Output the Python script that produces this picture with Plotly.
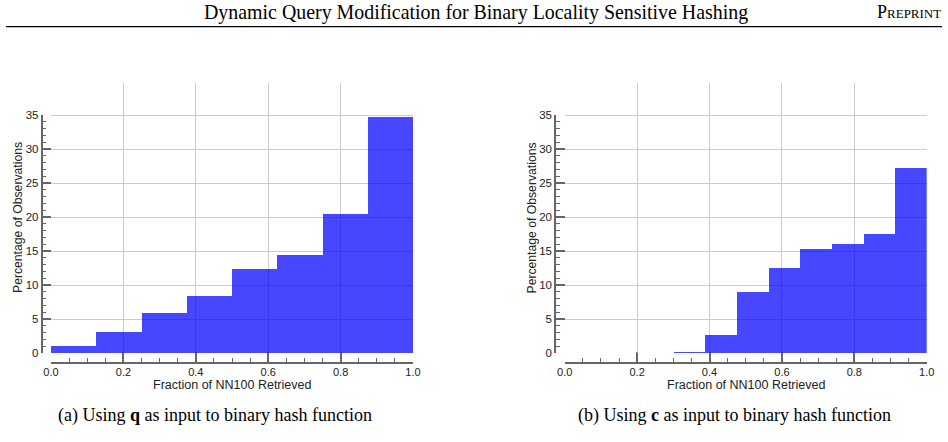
import plotly.graph_objects as go

# ---- data ----
edges_a = [0.0, 0.125, 0.25, 0.375, 0.5, 0.625, 0.75, 0.875, 1.0]
pct_a = [1.08, 3.03, 5.92, 8.42, 12.38, 14.44, 20.41, 34.7]
edges_b = [0.3, 0.3875, 0.475, 0.5625, 0.65, 0.7375, 0.825, 0.9125, 1.0]
pct_b = [0.2, 2.69, 8.96, 12.43, 15.27, 16.1, 17.52, 27.17]
x_ticks = [0.0, 0.2, 0.4, 0.6, 0.8, 1.0]
y_ticks = [0, 5, 10, 15, 20, 25, 30, 35]
header = "Dynamic Query Modification for Binary Locality Sensitive Hashing"
caption_a = "(a) Using <b>q</b> as input to binary hash function"
caption_b = "(b) Using <b>c</b> as input to binary hash function"
x_title = "Fraction of NN100 Retrieved"
y_title = "Percentage of Observations"

W, H = 948, 442
def px(v):
    return v / W
def py(v):
    return 1 - v / H

BAR = "rgba(0,0,255,0.72)"
GRID = "#cccccc"
AX = "#666666"
SANS = "Liberation Sans, Arial, sans-serif"
SERIF = "Liberation Serif, Times New Roman, serif"

def centers(e):
    return [(e[i] + e[i + 1]) / 2 for i in range(len(e) - 1)]
def widths(e):
    return [e[i + 1] - e[i] for i in range(len(e) - 1)]

panels = [
    dict(x0=51, x1=413, yline=41.5, xn="x", yn="y", yl="y3", e=edges_a, v=pct_a),
    dict(x0=564.7, x1=926.7, yline=555, xn="x2", yn="y2", yl="y4", e=edges_b, v=pct_b),
]

fig = go.Figure()
for p in panels:
    # transparent copy on the grid axis so its subplot (full grid height) exists
    fig.add_trace(go.Bar(x=centers(p["e"]), y=p["v"], width=widths(p["e"]),
                         marker=dict(color="rgba(0,0,0,0)", line=dict(width=0)),
                         hoverinfo="skip", xaxis=p["xn"], yaxis=p["yn"], showlegend=False))
    # visible histogram bars on the offset y axis (drawn above all gridlines)
    fig.add_trace(go.Bar(x=centers(p["e"]), y=p["v"], width=widths(p["e"]),
                         marker=dict(color=BAR, line=dict(width=0)),
                         xaxis=p["xn"], yaxis=p["yl"], showlegend=False))

y_bot, y_top, y_35, x_line = 353, 83, 115, 363
y_top_val = 35 * (y_bot - y_top) / (y_bot - y_35)

layout = dict(width=W, height=H, margin=dict(l=0, r=0, t=0, b=0, autoexpand=False),
              paper_bgcolor="white", plot_bgcolor="rgba(0,0,0,0)",
              bargap=0, barmode="overlay", font=dict(family=SANS, size=11, color="#222"))

for p in panels:
    xkey = "xaxis" if p["xn"] == "x" else "xaxis" + p["xn"][1:]
    ykey = "yaxis" if p["yn"] == "y" else "yaxis" + p["yn"][1:]
    ylkey = "yaxis" + p["yl"][1:]
    layout[xkey] = dict(domain=[px(p["x0"]), px(p["x1"])], range=[0, 1],
                        anchor="free", position=py(x_line), automargin=False,
                        tickvals=x_ticks, tickformat=".1f",
                        showgrid=True, gridcolor=GRID, gridwidth=1, zeroline=False,
                        showline=True, linecolor=AX, linewidth=1.5,
                        ticks="inside", ticklen=10, tickwidth=2, tickcolor=AX,
                        minor=dict(dtick=0.05, ticks="inside", ticklen=4,
                                   tickwidth=1, tickcolor=AX, showgrid=False),
                        ticklabelstandoff=-1,
                        tickfont=dict(family=SANS, size=11, color="#222"),
                        fixedrange=True)
    layout[ykey] = dict(domain=[py(y_bot), py(y_top)], range=[0, y_top_val],
                        anchor="free", position=px(p["x0"]), automargin=False,
                        tickvals=y_ticks, showticklabels=False,
                        showgrid=True, gridcolor=GRID, gridwidth=1, zeroline=False,
                        showline=False, ticks="", fixedrange=True)
    layout[ylkey] = dict(domain=[py(y_bot), py(y_35)], range=[0, 35],
                         anchor="free", position=px(p["yline"]), automargin=False,
                         tickvals=y_ticks, showgrid=False, zeroline=False,
                         showline=True, linecolor=AX, linewidth=1.5,
                         ticks="inside", ticklen=9, tickwidth=2, tickcolor=AX,
                         minor=dict(dtick=1, ticks="inside", ticklen=4,
                                    tickwidth=1, tickcolor=AX, showgrid=False),
                         tickfont=dict(family=SANS, size=11.5, color="#222"),
                         fixedrange=True)

annotations = []
for p in panels:
    annotations.append(dict(x=px((p["x0"] + p["x1"]) / 2), y=py(385), xref="paper", yref="paper",
                            text=x_title, showarrow=False, xanchor="center", yanchor="middle",
                            font=dict(family=SANS, size=12.5, color="#222")))
    annotations.append(dict(x=px(p["yline"] - 23.5), y=py(218), xref="paper", yref="paper",
                            text=y_title, showarrow=False, textangle=-90,
                            xanchor="center", yanchor="middle",
                            font=dict(family=SANS, size=12.2, color="#222")))
annotations.append(dict(x=px(476), y=py(12), xref="paper", yref="paper", text=header,
                        showarrow=False, xanchor="center", yanchor="middle",
                        font=dict(family=SERIF, size=19.9, color="black")))
annotations.append(dict(x=px(943), y=py(12), xref="paper", yref="paper",
                        text="P<span style='font-size:13px'>REPRINT</span>",
                        showarrow=False, xanchor="right", yanchor="middle",
                        font=dict(family=SERIF, size=18, color="black")))
annotations.append(dict(x=px(215), y=py(415), xref="paper", yref="paper", text=caption_a,
                        showarrow=False, xanchor="center", yanchor="middle",
                        font=dict(family=SERIF, size=18, color="black")))
annotations.append(dict(x=px(734), y=py(415), xref="paper", yref="paper", text=caption_b,
                        showarrow=False, xanchor="center", yanchor="middle",
                        font=dict(family=SERIF, size=18, color="black")))
layout["annotations"] = annotations
layout["shapes"] = [dict(type="line", xref="paper", yref="paper",
                         x0=px(6), x1=px(942), y0=py(26.7), y1=py(26.7),
                         line=dict(color="black", width=1.3))]

fig.update_layout(**layout)
fig.write_html("out.html")
